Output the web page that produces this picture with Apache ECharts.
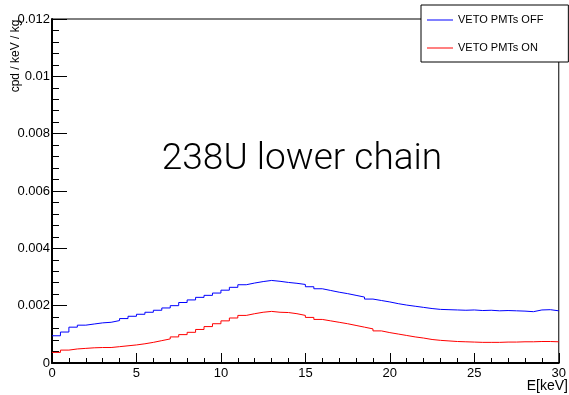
<!DOCTYPE html>
<html>
<head>
<meta charset="utf-8">
<script src="https://cdn.jsdelivr.net/npm/echarts@6/dist/echarts.min.js"></script>
<style>
html,body{margin:0;padding:0;background:#fff;}
#c{width:569px;height:395px;}
</style>
</head>
<body>
<div id="c"></div>
<script>
// ---- data ----
const binWidth = 0.5; // keV, bins from 0 to 30
const seriesNames = ['VETO PMTs OFF', 'VETO PMTs ON'];
const vetoOff = [
  0.00095,0.00108,0.00125,0.00132,0.00136,0.00140,0.00142,0.00148,0.00155,0.00163,
  0.00170,0.00177,0.00184,0.00192,0.00200,0.00211,0.00220,0.00229,0.00236,0.00244,
  0.00254,0.00264,0.00273,0.00279,0.00284,0.00288,0.00285,0.00281,0.00278,0.00274,
  0.00266,0.00259,0.00253,0.00247,0.00242,0.00236,0.00230,0.00223,0.00218,0.00213,
  0.00207,0.00202,0.00198,0.00194,0.00190,0.00187,0.00186,0.00185,0.00184,0.00185,
  0.00183,0.00184,0.00182,0.00183,0.00182,0.00181,0.00179,0.00185,0.00186,0.00182
];
const vetoOn = [
  0.00037,0.00045,0.00049,0.00051,0.00053,0.00054,0.00054,0.00057,0.00060,0.00063,
  0.00067,0.00072,0.00078,0.00084,0.00091,0.00099,0.00107,0.00117,0.00127,0.00137,
  0.00147,0.00157,0.00166,0.00172,0.00177,0.00180,0.00177,0.00176,0.00172,0.00166,
  0.00159,0.00152,0.00147,0.00142,0.00137,0.00131,0.00125,0.00119,0.00112,0.00106,
  0.00101,0.00096,0.00091,0.00087,0.00082,0.00079,0.00077,0.00075,0.00074,0.00073,
  0.00072,0.00072,0.00072,0.00073,0.00073,0.00074,0.00074,0.00075,0.00075,0.00074
];
const titleText = '238U lower chain';
const xTitle = 'E[keV]';
const yTitle = 'cpd / keV / kg';

function toSteps(vals) {
  const pts = vals.map((v, i) => [i * binWidth, v]);
  pts.push([vals.length * binWidth, vals[vals.length - 1]]);
  return pts;
}

const FONT = '"Liberation Sans", Arial, Helvetica, sans-serif';
const chart = echarts.init(document.getElementById('c'), null, {renderer: 'canvas'});
chart.setOption({
  animation: false,
  backgroundColor: '#fff',
  grid: {left: 52, right: 9, top: 19, bottom: 32, show: true, borderColor: '#000', borderWidth: 1, backgroundColor: 'transparent'},
  legend: {
    left: 421, top: 5, orient: 'vertical',
    backgroundColor: '#fff', borderColor: '#000', borderWidth: 1,
    padding: [8, 25, 7, 6], itemGap: 14,
    itemWidth: 26, itemHeight: 1, icon: 'rect',
    textStyle: {fontFamily: FONT, fontSize: 11, color: '#000', lineHeight: 14},
    data: seriesNames
  },
  xAxis: {
    type: 'value', min: 0, max: 30, interval: 5,
    axisLine: {show: true, lineStyle: {color: '#000', width: 2}},
    axisTick: {show: true, inside: true, length: 10, lineStyle: {color: '#000'}},
    minorTick: {show: true, splitNumber: 5, length: 5, lineStyle: {color: '#000'}},
    splitLine: {show: false},
    axisLabel: {fontFamily: FONT, fontSize: 13, color: '#000', margin: 4}
  },
  yAxis: {
    type: 'value', min: 0, max: 0.012, interval: 0.002,
    axisLine: {show: true, lineStyle: {color: '#000', width: 2}},
    axisTick: {show: true, inside: true, length: 15, lineStyle: {color: '#000'}},
    minorTick: {show: true, splitNumber: 5, length: 7, lineStyle: {color: '#000'}},
    splitLine: {show: false},
    axisLabel: {fontFamily: FONT, fontSize: 13, color: '#000', margin: 2}
  },
  graphic: [
    {type: 'text', x: 302, y: 160, z: 10,
     style: {text: titleText, font: '300 37px Roboto, "Liberation Sans", sans-serif', fill: '#000', textAlign: 'center', textVerticalAlign: 'middle'}},
    {type: 'text', x: 568, y: 386, z: 10,
     style: {text: xTitle, font: '14px ' + FONT, fill: '#000', textAlign: 'right', textVerticalAlign: 'middle'}},
    {type: 'text', x: 16, y: 56, rotation: Math.PI / 2, z: 1,
     style: {text: yTitle, font: '12px ' + FONT, fill: '#000', textAlign: 'center', textVerticalAlign: 'middle'}}
  ],
  series: [
    {name: seriesNames[0], type: 'line', step: 'end', showSymbol: false, data: toSteps(vetoOff),
     lineStyle: {color: '#0000ff', width: 1}, itemStyle: {color: '#0000ff'}},
    {name: seriesNames[1], type: 'line', step: 'end', showSymbol: false, data: toSteps(vetoOn),
     lineStyle: {color: '#ff0000', width: 1}, itemStyle: {color: '#ff0000'}}
  ]
});
</script>
</body>
</html>
